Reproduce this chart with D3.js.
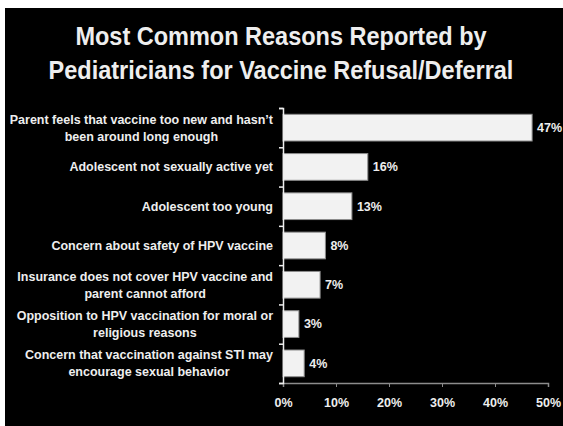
<!DOCTYPE html>
<html><head><meta charset="utf-8">
<script src="https://cdn.jsdelivr.net/npm/d3@7"></script>
<style>html,body{margin:0;padding:0;background:#fff;}svg{display:block;}</style>
</head><body>
<svg id="chart" width="563" height="426"></svg>
<script>
const titleLines = ["Most Common Reasons Reported by", "Pediatricians for Vaccine Refusal/Deferral"];
const categories = [
  ["Parent feels that vaccine too new and hasn\u2019t", "been around long enough"],
  ["Adolescent not sexually active yet"],
  ["Adolescent too young"],
  ["Concern about safety of HPV vaccine"],
  ["Insurance does not cover HPV vaccine and", "parent cannot afford"],
  ["Opposition to HPV vaccination for moral or", "religious reasons"],
  ["Concern that vaccination against STI may", "encourage sexual behavior"]
];
const values = [47, 16, 13, 8, 7, 3, 4];
const tickValues = [0, 10, 20, 30, 40, 50];

const svg = d3.select("#chart");
svg.append("rect").attr("x", 5).attr("y", 8).attr("width", 558).attr("height", 418).attr("fill", "#000");

const font = "Arial, 'Liberation Sans', sans-serif";
const titleG = svg.append("g").attr("transform", "translate(281,0) scale(0.94,1)");
titleLines.forEach((t, i) => {
  titleG.append("text").attr("x", 0).attr("y", 45 + i * 34)
    .attr("text-anchor", "middle").attr("fill", "#eeeeee")
    .style("font-family", font).style("font-weight", "bold").style("font-size", "25px")
    .text(t);
});

const x = d3.scaleLinear().domain([0, 50]).range([283, 548]);
const y = d3.scaleBand().domain(d3.range(categories.length)).range([108, 383]).paddingInner(0.32).paddingOuter(0.16);

// bars
svg.append("g").selectAll("rect").data(values).join("rect")
  .attr("x", x(0)).attr("y", (d, i) => y(i))
  .attr("width", d => x(d) - x(0)).attr("height", y.bandwidth())
  .attr("fill", "#f2f2f2").attr("stroke", "#8c8c8c").attr("stroke-width", 1);

// x axis
const xAxis = svg.append("g").attr("transform", "translate(0,383)")
  .call(d3.axisBottom(x).tickValues(tickValues).tickFormat(d => d + "%").tickSize(4).tickPadding(11));
xAxis.select(".domain").attr("stroke", "#8c8c8c").attr("stroke-width", 1.5);
xAxis.selectAll(".tick line").attr("stroke", "#8c8c8c");
xAxis.selectAll("text").attr("fill", "#eeeeee").style("font-family", font).style("font-weight", "bold").style("font-size", "12.5px");

// y axis line with ticks at band boundaries
const yb = d3.scaleLinear().domain([0, categories.length]).range([108, 383]);
const yAxis = svg.append("g").attr("transform", "translate(283,0)")
  .call(d3.axisLeft(yb).tickValues(d3.range(categories.length + 1)).tickSize(4).tickFormat(""));
yAxis.select(".domain").attr("stroke", "#eeeeee").attr("stroke-width", 1.5);
yAxis.selectAll(".tick line").attr("stroke", "#eeeeee").attr("stroke-width", 1.5);

// category labels: block right-aligned, lines centered within block
const labelRight = 273;
const lg = svg.append("g");
categories.forEach((lines, i) => {
  const cy = y(i) + y.bandwidth() / 2;
  const tmp = lines.map(l => lg.append("text")
    .style("font-family", font).style("font-weight", "bold").style("font-size", "12.5px")
    .attr("fill", "#eeeeee").text(l));
  const maxW = d3.max(tmp, t => t.node().getComputedTextLength());
  const cx = labelRight - maxW / 2;
  const lh = 17;
  tmp.forEach((t, j) => {
    t.attr("x", cx).attr("text-anchor", "middle")
     .attr("y", cy + (j - (lines.length - 1) / 2) * lh).attr("dy", "0.35em");
  });
});

// value labels
svg.append("g").selectAll("text").data(values).join("text")
  .attr("x", d => x(d) + 5).attr("y", (d, i) => y(i) + y.bandwidth() / 2).attr("dy", "0.35em")
  .attr("fill", "#eeeeee").style("font-family", font).style("font-weight", "bold").style("font-size", "12.5px")
  .text(d => d + "%");
</script>
</body></html>
